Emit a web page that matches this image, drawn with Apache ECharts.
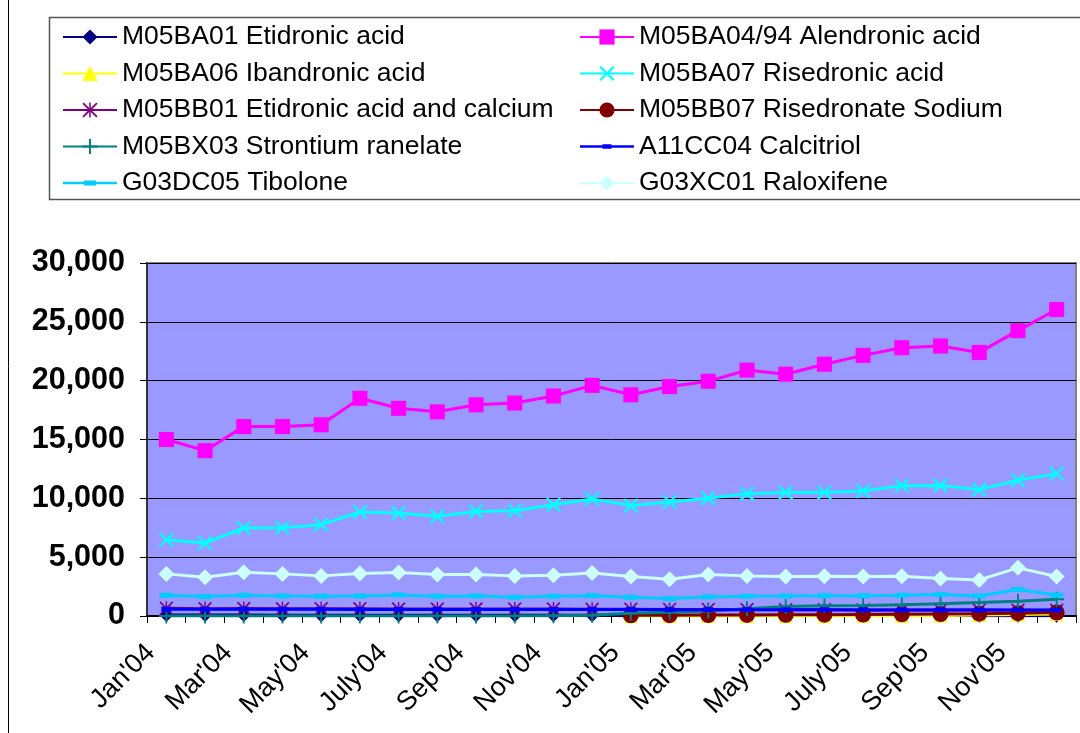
<!DOCTYPE html>
<html>
<head>
<meta charset="utf-8">
<script src="https://cdn.jsdelivr.net/npm/echarts@6/dist/echarts.min.js"></script>
<style>
  html, body { margin: 0; padding: 0; background: #fff; }
  #chart { width: 1080px; height: 733px; }
</style>
</head>
<body>
<div id="chart"></div>
<script>
// Monthly prescriptions, Jan 2004 – Dec 2005
const months = [
  "Jan'04", "Feb'04", "Mar'04", "Apr'04", "May'04", "June'04",
  "July'04", "Aug'04", "Sep'04", "Oct'04", "Nov'04", "Dec'04",
  "Jan'05", "Feb'05", "Mar'05", "Apr'05", "May'05", "June'05",
  "July'05", "Aug'05", "Sep'05", "Oct'05", "Nov'05", "Dec'05"
];

const etidronic = [80, 75, 75, 70, 70, 65, 65, 60, 60, 60, 55, 55,
                   50, 50, 45, 45, 40, 40, 40, 35, 35, 30, 30, 30];
const alendronic = [15000, 14050, 16100, 16100, 16250, 18500, 17650, 17350, 17950, 18100, 18700, 19600,
                    18800, 19500, 19950, 20900, 20550, 21400, 22150, 22800, 22950, 22400, 24250, 26050];
const ibandronic = [null, null, null, null, null, null, null, null, null, null, null, null,
                    0, 0, 0, 0, 0, 10, 20, 30, 50, 80, 120, 180];
const risedronic = [6480, 6200, 7480, 7500, 7760, 8840, 8750, 8470, 8890, 8950, 9460, 9950,
                    9380, 9690, 10000, 10400, 10490, 10500, 10630, 11080, 11100, 10740, 11530, 12100];
const etidronicCalcium = [650, 620, 640, 620, 610, 620, 600, 600, 600, 590, 590, 580,
                          570, 560, 560, 550, 540, 530, 520, 510, 500, 500, 490, 480];
const risedronateSodium = [null, null, null, null, null, null, null, null, null, null, null, null,
                           60, 70, 80, 90, 100, 110, 130, 150, 170, 200, 240, 300];
const strontium = [0, 0, 0, 0, 0, 0, 0, 0, 0, 0, 30, 60,
                   230, 310, 420, 620, 800, 880, 900, 960, 1050, 1140, 1250, 1420];
const calcitriol = [580, 570, 580, 570, 570, 560, 560, 560, 550, 550, 550, 550,
                    550, 540, 540, 540, 530, 530, 520, 520, 520, 510, 510, 510];
const tibolone = [1760, 1650, 1760, 1700, 1680, 1700, 1790, 1680, 1700, 1590, 1680, 1730,
                  1590, 1480, 1620, 1680, 1700, 1730, 1730, 1760, 1830, 1700, 2250, 1780];
const raloxifene = [3580, 3300, 3720, 3580, 3410, 3610, 3690, 3520, 3520, 3410, 3470, 3660,
                    3350, 3130, 3520, 3410, 3350, 3380, 3350, 3380, 3180, 3070, 4090, 3350];

const yTicks = [0, 5000, 10000, 15000, 20000, 25000, 30000];

const FONT = "'Liberation Sans', Arial, sans-serif";

// marker shapes
const SYM_X = 'path://M0,1.6 L1.6,0 L7.5,5.9 L13.4,0 L15,1.6 L9.1,7.5 L15,13.4 L13.4,15 L7.5,9.1 L1.6,15 L0,13.4 L5.9,7.5 Z';
const SYM_STAR = 'path://M0,1.2 L1.2,0 L7,5.8 L12.8,0 L14,1.2 L8.2,7 L14,12.8 L12.8,14 L7,8.2 L1.2,14 L0,12.8 L5.8,7 Z M6.3,0 H7.7 V14 H6.3 Z';
const SYM_PLUS = 'path://M7,0 H9 V7 H16 V9 H9 V16 H7 V9 H0 V7 H7 Z';
// legend icon: line with a short dash on it
const ICON_DASH_WIDE = 'path://M0,8.3 H54 V10.7 H0 Z M21,7 H33 V12 H21 Z';
const ICON_DASH_SMALL = 'path://M0,8.3 H54 V10.7 H0 Z M22.5,7.3 H31.5 V11.7 H22.5 Z';

function lineSeries(name, data, color, symbol, size, z) {
  return {
    name: name,
    type: 'line',
    data: data,
    symbol: symbol,
    symbolSize: size,
    showAllSymbol: true,
    connectNulls: false,
    z: z,
    lineStyle: { color: color, width: 3 },
    itemStyle: { color: color },
    emphasis: { disabled: true }
  };
}

const series = [
  lineSeries('M05BA01 Etidronic acid', etidronic, '#000080', 'diamond', 14, 2),
  lineSeries('M05BA04/94 Alendronic acid', alendronic, '#FF00FF', 'rect', 15, 3),
  lineSeries('M05BA06 Ibandronic acid', ibandronic, '#FFFF00', 'triangle', 14, 4),
  lineSeries('M05BA07 Risedronic acid', risedronic, '#00FFFF', SYM_X, 15, 5),
  lineSeries('M05BB01 Etidronic acid and calcium', etidronicCalcium, '#800080', SYM_STAR, 14, 6),
  lineSeries('M05BB07 Risedronate Sodium', risedronateSodium, '#800000', 'circle', 16, 7),
  lineSeries('M05BX03 Strontium ranelate', strontium, '#008080', SYM_PLUS, 15, 8),
  lineSeries('A11CC04 Calcitriol', calcitriol, '#0000FF', 'rect', [10, 5], 9),
  lineSeries('G03DC05 Tibolone', tibolone, '#00CCFF', 'rect', [13, 5], 10),
  lineSeries('G03XC01 Raloxifene', raloxifene, '#CCFFFF', 'diamond', 16, 11)
];

const legendCommon = {
  orient: 'vertical',
  top: 23,
  padding: 0,
  itemWidth: 54,
  itemHeight: 19,
  itemGap: 8.5,
  selectedMode: false,
  textStyle: { fontFamily: FONT, fontSize: 26.5, color: '#000', lineHeight: 28 }
};

const option = {
  animation: false,
  backgroundColor: '#ffffff',
  graphic: [
    { type: 'line', shape: { x1: 8.5, y1: 0, x2: 8.5, y2: 733 },
      style: { stroke: '#000', lineWidth: 1 }, silent: true },
    { type: 'rect', shape: { x: 49.5, y: 17.5, width: 1040, height: 182 },
      style: { fill: 'none', stroke: '#555', lineWidth: 1.5 }, silent: true, z: -1 }
  ],
  legend: [
    Object.assign({}, legendCommon, {
      left: 62,
      data: [
        series[0].name, series[2].name, series[4].name, series[6].name,
        { name: series[8].name, icon: ICON_DASH_WIDE }
      ]
    }),
    Object.assign({}, legendCommon, {
      left: 579,
      data: [
        series[1].name, series[3].name, series[5].name,
        { name: series[7].name, icon: ICON_DASH_SMALL },
        series[9].name
      ]
    })
  ],
  grid: {
    left: 147, right: 4, top: 263, bottom: 117,
    show: true,
    backgroundColor: '#9999FF',
    borderColor: '#808080',
    borderWidth: 2
  },
  xAxis: {
    type: 'category',
    data: months,
    boundaryGap: true,
    axisLine: { lineStyle: { color: '#000', width: 2 } },
    axisTick: { show: true, interval: 0, length: 7, lineStyle: { color: '#000', width: 1 } },
    axisLabel: {
      interval: 1,
      rotate: 45,
      margin: 17,
      padding: [0, 22, 0, 0],
      fontFamily: FONT,
      fontSize: 27,
      color: '#000'
    },
    splitLine: { show: false }
  },
  yAxis: {
    type: 'value',
    min: yTicks[0],
    max: yTicks[yTicks.length - 1],
    interval: yTicks[1] - yTicks[0],
    axisLine: { show: true, lineStyle: { color: '#333', width: 2 } },
    axisTick: { show: true, length: 7, lineStyle: { color: '#000' } },
    axisLabel: {
      margin: 22,
      fontFamily: FONT,
      fontSize: 30.5,
      fontWeight: 'bold',
      color: '#000',
      formatter: v => v.toLocaleString('en-US')
    },
    splitLine: { show: true, lineStyle: { color: '#000', width: 1 } }
  },
  series: series
};

const chart = echarts.init(document.getElementById('chart'), null, { renderer: 'canvas' });
chart.setOption(option);
</script>
</body>
</html>
